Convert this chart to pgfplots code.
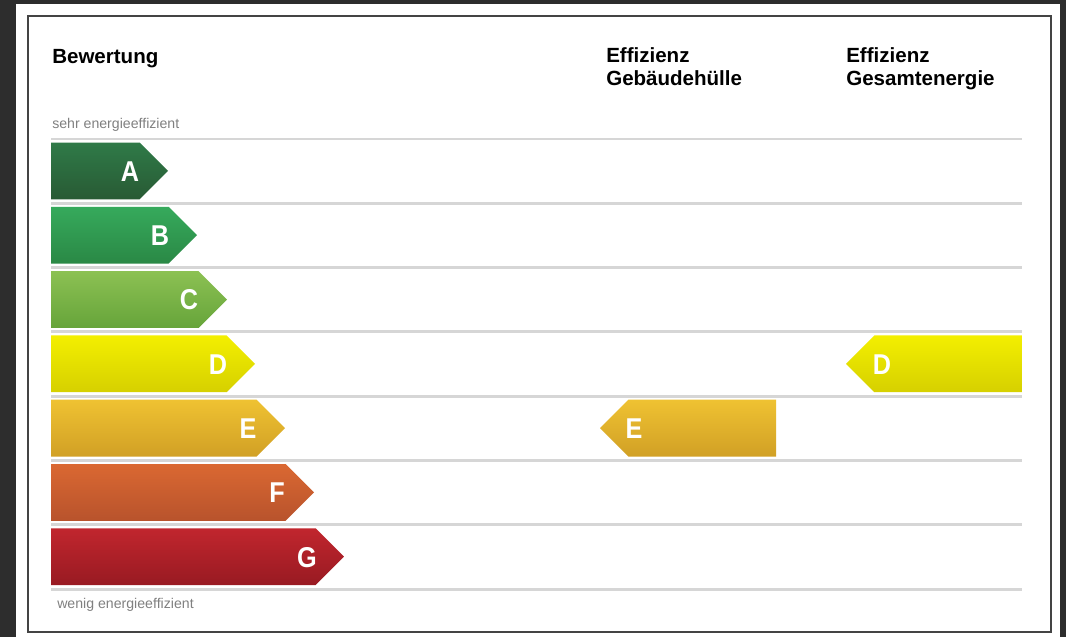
\documentclass[border=0pt]{standalone}
\usepackage{pgfplots}
\pgfplotsset{compat=1.18}
\usepackage{fontspec}
\setmainfont{Liberation Sans}
\newfontfamily\letterfont[FakeStretch=0.88]{Liberation Sans}
\definecolor{bg}{HTML}{2D2D2D}
\definecolor{frame}{HTML}{444444}
\definecolor{sep}{HTML}{D6D6D6}
\definecolor{note}{HTML}{808080}
\definecolor{Atop}{HTML}{2F7A48}\definecolor{Abot}{HTML}{285A34}
\definecolor{Btop}{HTML}{36AA5C}\definecolor{Bbot}{HTML}{2A8845}
\definecolor{Ctop}{HTML}{8CC153}\definecolor{Cbot}{HTML}{66A43A}
\definecolor{Dtop}{HTML}{F3EF00}\definecolor{Dbot}{HTML}{D6D000}
\definecolor{Etop}{HTML}{EFC232}\definecolor{Ebot}{HTML}{D1A025}
\definecolor{Ftop}{HTML}{DA6832}\definecolor{Fbot}{HTML}{B8532C}
\definecolor{Gtop}{HTML}{C1262E}\definecolor{Gbot}{HTML}{981A22}
\tikzset{lett/.style={text=white, font=\letterfont\bfseries\fontsize{21.5}{21.5}\selectfont, anchor=center, inner sep=0pt},
  hdr/.style={anchor=base west, inner sep=0pt, font=\bfseries\fontsize{15.4}{17}\selectfont},
  nt/.style={anchor=base west, inner sep=0pt, text=note, font=\fontsize{10.6}{12}\selectfont}}
\begin{document}
\begin{tikzpicture}
\begin{axis}[scale only axis, width=799.5pt, height=477.75pt,
  xmin=0, xmax=1066, ymin=0, ymax=637, y dir=reverse,
  hide axis, clip=false]
% background and frame
\fill[bg] (axis cs:0,0) rectangle (axis cs:1066,637);
\fill[white] (axis cs:16,4) rectangle (axis cs:1060,637);
\draw[frame, line width=1.4pt] (axis cs:28,16) rectangle (axis cs:1051,632);
% separator lines
\pgfplotsinvokeforeach{139,203.3,267.6,331.9,396.2,460.5,524.8,589.1}{
  \draw[sep, line width=2.2pt] (axis cs:51,#1) -- (axis cs:1022,#1);
}
% headers
\node[hdr] at (axis cs:52,63.5) {Bewertung};
\node[hdr] at (axis cs:606,62.5) {Effizienz};
\node[hdr] at (axis cs:606,85) {Gebäudehülle};
\node[hdr] at (axis cs:846,62.5) {Effizienz};
\node[hdr] at (axis cs:846,85) {Gesamtenergie};
\node[nt] at (axis cs:52,128.5) {sehr energieeffizient};
\node[nt] at (axis cs:57,608.5) {wenig energieeffizient};
% rating arrows (scale)
\addplot[draw=none, top color=Atop, bottom color=Abot] coordinates {(51,142.5) (139.6,142.5) (168,170.9) (139.6,199.3) (51,199.3)} -- cycle;
\addplot[draw=none, top color=Btop, bottom color=Bbot] coordinates {(51,206.8) (168.6,206.8) (197,235.2) (168.6,263.6) (51,263.6)} -- cycle;
\addplot[draw=none, top color=Ctop, bottom color=Cbot] coordinates {(51,271.1) (198.6,271.1) (227,299.5) (198.6,327.9) (51,327.9)} -- cycle;
\addplot[draw=none, top color=Dtop, bottom color=Dbot] coordinates {(51,335.4) (226.6,335.4) (255,363.8) (226.6,392.2) (51,392.2)} -- cycle;
\addplot[draw=none, top color=Etop, bottom color=Ebot] coordinates {(51,399.7) (256.6,399.7) (285,428.1) (256.6,456.5) (51,456.5)} -- cycle;
\addplot[draw=none, top color=Ftop, bottom color=Fbot] coordinates {(51,464.0) (285.6,464.0) (314,492.4) (285.6,520.8) (51,520.8)} -- cycle;
\addplot[draw=none, top color=Gtop, bottom color=Gbot] coordinates {(51,528.3) (315.6,528.3) (344,556.7) (315.6,585.1) (51,585.1)} -- cycle;
% result arrows
\addplot[draw=none, top color=Etop, bottom color=Ebot] coordinates {(600,428.1) (628.4,399.7) (776,399.7) (776,456.5) (628.4,456.5)} -- cycle;
\addplot[draw=none, top color=Dtop, bottom color=Dbot] coordinates {(846,363.8) (874.4,335.4) (1022,335.4) (1022,392.2) (874.4,392.2)} -- cycle;
% letters
\node[lett] at (axis cs:130,171.5) {A};
\node[lett] at (axis cs:160,235.8) {B};
\node[lett] at (axis cs:189,300.1) {C};
\node[lett] at (axis cs:218,364.4) {D};
\node[lett] at (axis cs:248,428.7) {E};
\node[lett] at (axis cs:277,493) {F};
\node[lett] at (axis cs:307,557.3) {G};
\node[lett] at (axis cs:634,428.7) {E};
\node[lett] at (axis cs:882,364.4) {D};
\end{axis}
\end{tikzpicture}
\end{document}
